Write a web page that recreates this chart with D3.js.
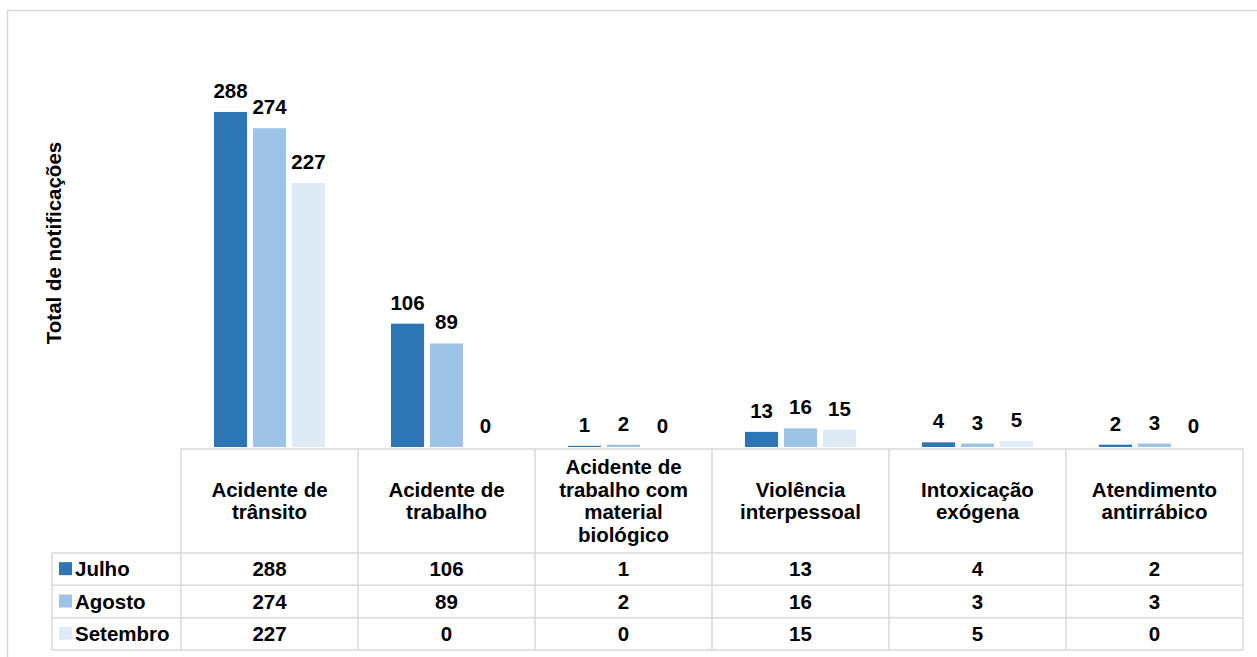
<!DOCTYPE html>
<html>
<head>
<meta charset="utf-8">
<script src="https://cdn.jsdelivr.net/npm/d3@7"></script>
<style>
  body { margin: 0; background: #fff; }
  .canvas { width: 1257px; height: 657px; }
  text { font-family: 'Liberation Sans', Arial, sans-serif; font-weight: bold; fill: #000; }
</style>
</head>
<body>
<div class="canvas"></div>
<script>
// data
const categories = [
  'Acidente de trânsito',
  'Acidente de trabalho',
  'Acidente de trabalho com material biológico',
  'Violência interpessoal',
  'Intoxicação exógena',
  'Atendimento antirrábico'
];
const seriesNames = ['Julho', 'Agosto', 'Setembro'];
const julho = [288, 106, 1, 13, 4, 2];
const agosto = [274, 89, 2, 16, 3, 3];
const setembro = [227, 0, 0, 15, 5, 0];
const yTitle = 'Total de notificações';

const seriesValues = [julho, agosto, setembro];
const data = categories.map((c, i) => ({
  key: c,
  values: seriesNames.map((s, j) => ({ series: s, value: seriesValues[j][i] }))
}));

const dims = {
  width: 1257,
  height: 657,
  plotTop: 98,
  baseline: 447,
  tableTop: 449,
  headerBottom: 553,
  tableBottom: 650,
  tableLeft: 181,
  tableRight: 1243,
  legendLeft: 52,
  fontSize: 20.5
};

const color = d3.scaleOrdinal()
  .domain(seriesNames)
  .range(['#2e75b6', '#9dc3e6', '#deebf7']);

const gridColor = '#d9d9d9';

const svg = d3.select('.canvas')
  .append('svg')
  .attr('width', dims.width)
  .attr('height', dims.height);

// chart border
svg.append('rect')
  .attr('x', 7.5)
  .attr('y', 10.5)
  .attr('width', 1300)
  .attr('height', 700)
  .attr('fill', 'none')
  .attr('stroke', gridColor)
  .attr('stroke-width', 1.5);

// scales
const x = d3.scaleBand()
  .domain(categories)
  .range([dims.tableLeft, dims.tableRight]);

const xInner = d3.scaleBand()
  .domain(seriesNames)
  .range([33, x.bandwidth() - 33])
  .paddingInner(0.15);

const y = d3.scaleLinear()
  .domain([0, 300])
  .range([dims.baseline, dims.plotTop]);

const rowY = d3.scaleBand()
  .domain(seriesNames)
  .range([dims.headerBottom, dims.tableBottom]);

// bars
const groups = svg.append('g')
  .selectAll('g')
  .data(data)
  .enter()
  .append('g')
  .attr('transform', (d) => `translate(${x(d.key)}, 0)`);

groups.selectAll('rect')
  .data((d) => d.values)
  .enter()
  .append('rect')
  .attr('x', (d) => xInner(d.series))
  .attr('width', xInner.bandwidth())
  .attr('y', (d) => y(d.value))
  .attr('height', (d) => dims.baseline - y(d.value))
  .attr('fill', (d) => color(d.series));

// data labels
groups.selectAll('text')
  .data((d) => d.values)
  .enter()
  .append('text')
  .attr('x', (d) => xInner(d.series) + xInner.bandwidth() / 2)
  .attr('y', (d) => y(d.value) - 14)
  .attr('text-anchor', 'middle')
  .attr('font-size', dims.fontSize)
  .text((d) => d.value);

// y axis title
svg.append('text')
  .attr('transform', 'translate(61, 243) rotate(-90)')
  .attr('text-anchor', 'middle')
  .attr('font-size', 20.5)
  .text(yTitle);

// ---------------- data table
const table = svg.append('g')
  .attr('stroke', gridColor)
  .attr('stroke-width', 1.5)
  .attr('fill', 'none');

// horizontal lines
table.append('line')
  .attr('x1', dims.tableLeft).attr('x2', dims.tableRight)
  .attr('y1', dims.tableTop).attr('y2', dims.tableTop);

const rowEdges = seriesNames.map((s) => rowY(s)).concat([dims.tableBottom]);
table.selectAll('.hline')
  .data(rowEdges)
  .enter()
  .append('line')
  .attr('class', 'hline')
  .attr('x1', dims.legendLeft).attr('x2', dims.tableRight)
  .attr('y1', (d) => d).attr('y2', (d) => d);

// vertical lines
const colEdges = categories.map((c) => x(c)).concat([dims.tableRight]);
table.selectAll('.vline')
  .data(colEdges)
  .enter()
  .append('line')
  .attr('class', 'vline')
  .attr('x1', (d) => d).attr('x2', (d) => d)
  .attr('y1', dims.tableTop).attr('y2', dims.tableBottom);

table.append('line')
  .attr('x1', dims.legendLeft).attr('x2', dims.legendLeft)
  .attr('y1', dims.headerBottom).attr('y2', dims.tableBottom);

// header labels, wrapped
const lineH = 22.7;
const headers = svg.append('g')
  .selectAll('text')
  .data(categories)
  .enter()
  .append('text')
  .attr('text-anchor', 'middle')
  .attr('font-size', dims.fontSize)
  .attr('x', (d) => x(d) + x.bandwidth() / 2);

headers.each(function (d) {
  const el = d3.select(this);
  const words = d.split(' ');
  let lines = [];
  let line = [];
  const probe = el.append('tspan');
  words.forEach((w) => {
    line.push(w);
    probe.text(line.join(' '));
    if (probe.node().getComputedTextLength() > 150 && line.length > 1) {
      line.pop();
      lines.push(line.join(' '));
      line = [w];
    }
  });
  lines.push(line.join(' '));
  probe.remove();
  const mid = (dims.tableTop + dims.headerBottom) / 2;
  const first = mid - ((lines.length - 1) * lineH) / 2 + 7;
  lines.forEach((l, i) => {
    el.append('tspan')
      .attr('x', x(d) + x.bandwidth() / 2)
      .attr('y', first + i * lineH)
      .text(l);
  });
});

// legend keys + values
const rows = svg.append('g')
  .selectAll('g')
  .data(seriesNames)
  .enter()
  .append('g')
  .attr('transform', (s) => `translate(0, ${rowY(s) + rowY.bandwidth() / 2})`);

rows.append('rect')
  .attr('x', 59)
  .attr('y', -7)
  .attr('width', 13)
  .attr('height', 13)
  .attr('fill', (s) => color(s));

rows.append('text')
  .attr('x', 75)
  .attr('y', 7)
  .attr('font-size', dims.fontSize)
  .text((s) => s);

rows.each(function (s, j) {
  d3.select(this)
    .selectAll('.val')
    .data(seriesValues[j])
    .enter()
    .append('text')
    .attr('class', 'val')
    .attr('x', (v, i) => x(categories[i]) + x.bandwidth() / 2)
    .attr('y', 7)
    .attr('text-anchor', 'middle')
    .attr('font-size', dims.fontSize)
    .text((v) => v);
});
</script>
</body>
</html>
